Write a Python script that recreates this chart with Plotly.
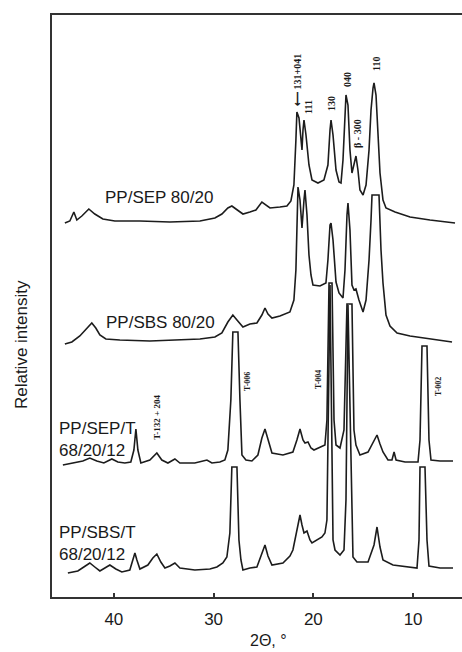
import plotly.graph_objects as go

# ---- data (2-theta in degrees, relative intensity in arbitrary units, stacked) ----
sep_tt = [44.91, 44.41, 44.01, 43.71, 43.21, 42.51, 41.91, 41.10, 39.90, 37.39, 34.38, 31.37, 29.87, 29.17,
          28.57, 28.17, 27.76, 27.06, 26.36, 25.76, 25.16, 24.75, 24.35, 23.35, 22.65, 22.25, 21.95, 21.75,
          21.65, 21.44, 21.24, 21.14, 21.04, 20.94, 20.74, 20.44, 20.14, 19.54, 18.94, 18.54, 18.33, 18.23,
          18.03, 17.73, 17.43, 17.23, 17.03, 16.83, 16.73, 16.53, 16.33, 16.13, 15.93, 15.73, 15.53, 15.33,
          15.02, 14.72, 14.42, 14.22, 14.02, 13.92, 13.72, 13.52, 13.32, 13.02, 12.72, 11.81, 10.31, 8.31, 5.80]
sep_int = [374, 376, 385, 377, 381, 388, 383, 378, 376, 376, 375, 376, 379, 383,
           389, 391, 388, 383, 385, 387, 395, 392, 389, 390, 391, 396, 412, 457,
           485, 479, 457, 447, 467, 477, 462, 432, 417, 414, 417, 432, 467, 477,
           462, 427, 415, 414, 437, 487, 502, 492, 447, 424, 432, 441, 427, 407,
           402, 412, 447, 487, 509, 514, 502, 457, 424, 397, 389, 385, 380, 377, 374]

sbs_tt = [44.91, 44.21, 43.41, 42.71, 42.21, 41.81, 41.40, 40.80, 39.40, 36.39, 33.38, 31.37, 29.87, 29.17,
          28.57, 28.07, 27.66, 27.06, 26.36, 25.66, 25.16, 24.85, 24.55, 24.15, 23.35, 22.35, 21.95, 21.75,
          21.65, 21.54, 21.34, 21.14, 20.94, 20.84, 20.64, 20.44, 20.24, 20.04, 19.34, 18.74, 18.54, 18.33,
          18.23, 18.03, 17.73, 17.43, 17.03, 16.83, 16.63, 16.53, 16.33, 16.13, 15.93, 15.73, 15.43, 15.02,
          14.72, 14.42, 14.22, 14.12, 13.42, 13.22, 13.02, 12.72, 12.32, 11.61, 10.31, 8.31, 6.10]
sbs_int = [253, 255, 261, 269, 274, 269, 262, 258, 257, 256, 257, 258, 260, 264,
           275, 282, 277, 270, 273, 274, 282, 289, 283, 279, 281, 285, 297, 327,
           367, 410, 397, 369, 397, 407, 382, 342, 322, 312, 311, 314, 337, 372,
           374, 357, 315, 304, 299, 327, 382, 394, 367, 312, 307, 308, 297, 285,
           297, 337, 377, 402, 402, 347, 314, 282, 271, 264, 261, 258, 255]

sept_tt = [45.11, 43.91, 43.11, 42.41, 41.71, 41.00, 40.20, 39.60, 38.90, 38.30, 37.99, 37.79, 37.59, 37.29,
           36.39, 35.69, 35.19, 34.58, 33.88, 33.38, 31.88, 30.67, 30.17, 29.37, 28.87, 28.57, 28.27, 28.07,
           27.56, 27.36, 27.16, 26.76, 26.16, 25.56, 25.16, 24.85, 24.55, 24.15, 23.05, 22.05, 21.65, 21.34,
           21.04, 20.84, 20.54, 20.24, 19.94, 19.34, 18.84, 18.64, 18.43, 18.13, 17.93, 17.73, 17.33, 16.93,
           16.63, 16.13, 15.93, 15.73, 15.33, 14.52, 14.02, 13.62, 13.32, 13.02, 12.52, 12.12, 11.91, 11.71,
           10.81, 9.51, 9.31, 9.11, 8.61, 8.41, 8.21, 7.30, 6.00]
sept_int = [132, 134, 136, 139, 136, 134, 138, 135, 134, 135, 147, 168, 147, 134,
            137, 144, 137, 134, 138, 134, 134, 137, 134, 135, 137, 147, 197, 265,
            265, 197, 142, 137, 136, 142, 159, 168, 157, 144, 142, 145, 157, 168,
            157, 154, 155, 149, 147, 150, 152, 177, 314, 314, 177, 152, 149, 167,
            293, 293, 167, 152, 142, 145, 155, 162, 153, 145, 137, 137, 145, 137,
            135, 135, 157, 251, 251, 157, 137, 136, 136]

sbst_tt = [44.61, 43.61, 43.01, 42.41, 41.91, 41.40, 40.90, 40.40, 39.80, 39.20, 38.40, 38.09, 37.89, 37.69,
           37.39, 36.59, 36.09, 35.69, 35.29, 34.88, 34.38, 33.88, 33.38, 31.88, 30.37, 29.67, 29.07, 28.67,
           28.37, 28.17, 27.66, 27.46, 27.26, 27.06, 26.36, 25.66, 25.26, 24.85, 24.55, 24.15, 23.05, 22.35,
           22.05, 21.65, 21.34, 21.14, 20.94, 20.64, 20.34, 20.14, 19.64, 19.14, 18.84, 18.64, 18.33, 18.03,
           17.83, 17.33, 16.93, 16.73, 16.53, 16.23, 16.03, 15.63, 14.52, 13.92, 13.62, 13.32, 13.02, 12.02,
           10.61, 9.61, 9.41, 9.31, 8.81, 8.61, 8.41, 7.30, 6.00]
sbst_int = [24, 26, 30, 34, 30, 26, 29, 32, 28, 25, 27, 37, 44, 37,
            28, 32, 39, 43, 35, 29, 31, 34, 29, 27, 28, 30, 34, 40,
            64, 130, 130, 57, 37, 27, 29, 30, 41, 52, 41, 32, 34, 41,
            47, 67, 82, 72, 64, 66, 57, 54, 57, 60, 64, 77, 312, 57,
            47, 42, 47, 97, 292, 117, 40, 35, 35, 52, 70, 50, 37, 32,
            30, 29, 57, 130, 130, 57, 31, 29, 29]

tick_vals = [40, 30, 20, 10]
tick_text = ["40", "30", "20", "10"]

sample_names = ["PP/SEP 80/20", "PP/SBS 80/20", "PP/SEP/T<br>68/20/12", "PP/SBS/T<br>68/20/12"]
sample_label_tt = [35.49, 35.29, 45.72, 45.72]
sample_label_int = [400, 275, 158, 54]

peak_labels = ["\u27f5 131+041", "111", "130", "040", "\u03b2 - 300", "110",
               "T-132 + 204", "T-006", "T-004", "T-002"]
peak_label_tt = [21.65, 20.54, 18.23, 16.63, 15.63, 13.72, 35.69, 26.66, 19.54, 7.50]
peak_label_int = [517, 490, 493, 518, 464, 533, 180, 216, 218, 210]
peak_label_size = [10, 10, 10, 10, 10, 10, 9, 8, 8, 8]

# ---- figure ----
LINE = "#1c1c1c"
fig = go.Figure()
for xs, ys in [(sep_tt, sep_int), (sbs_tt, sbs_int), (sept_tt, sept_int), (sbst_tt, sbst_int)]:
    fig.add_trace(go.Scatter(x=xs, y=ys, mode="lines",
                             line=dict(color=LINE, width=1.6), showlegend=False, hoverinfo="skip"))

for i, name in enumerate(sample_names):
    left = i >= 2
    fig.add_annotation(x=sample_label_tt[i], y=sample_label_int[i], xref="x", yref="y",
                       text=name, showarrow=False, align="left",
                       xanchor="left" if left else "center", yanchor="middle",
                       font=dict(family="Liberation Sans, Arial, sans-serif", size=17, color="#1a1a1a"))

for t, x, y, s in zip(peak_labels, peak_label_tt, peak_label_int, peak_label_size):
    fig.add_annotation(x=x, y=y, xref="x", yref="y", text="<b>" + t + "</b>", showarrow=False,
                       textangle=-90, xanchor="center", yanchor="middle",
                       font=dict(family="Liberation Serif, Times New Roman, serif", size=s, color="#1a1a1a"))

fig.add_annotation(x=-0.073, y=0.433, xref="paper", yref="paper", text="Relative intensity",
                   showarrow=False, textangle=-90, xanchor="center", yanchor="middle",
                   font=dict(family="Liberation Sans, Arial, sans-serif", size=17, color="#1a1a1a"))
fig.add_annotation(x=0.527, y=-0.075, xref="paper", yref="paper", text="2\u0398, \u00b0",
                   showarrow=False, xanchor="center", yanchor="middle",
                   font=dict(family="Liberation Sans, Arial, sans-serif", size=16, color="#1a1a1a"))

fig.update_layout(
    width=462, height=652,
    margin=dict(l=52, r=0, t=15, b=55),
    paper_bgcolor="white", plot_bgcolor="white",
    font=dict(family="Liberation Sans, Arial, sans-serif", size=17, color="#1a1a1a"),
    xaxis=dict(range=[46.2, 5.1], tickmode="array", tickvals=tick_vals, ticktext=tick_text,
               ticks="inside", ticklen=4, tickwidth=1.5, tickcolor="#333", ticklabelstandoff=6,
               showline=True, linecolor="#333", linewidth=2, mirror=True,
               showgrid=False, zeroline=False),
    yaxis=dict(range=[0, 582], showticklabels=False, ticks="", showline=True,
               linecolor="#333", linewidth=2, mirror=False, showgrid=False, zeroline=False),
)

fig.write_html("out.html")
